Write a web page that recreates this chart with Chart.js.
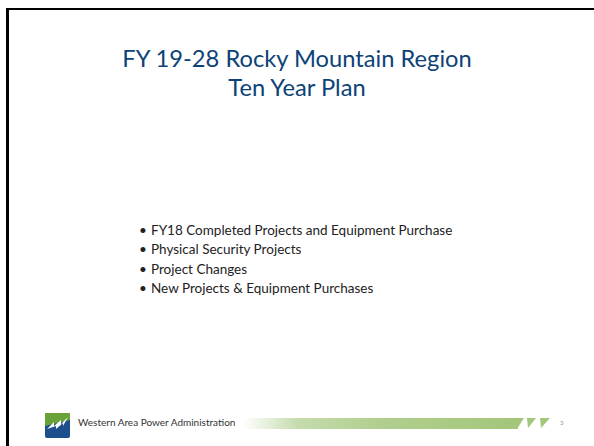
<!DOCTYPE html>
<html lang="en">
<head>
  <meta charset="UTF-8" />
  <title>FY 19-28 Rocky Mountain Region Ten Year Plan</title>
  <script src="https://cdn.jsdelivr.net/npm/chart.js"></script>
  <style>
    html, body { margin: 0; padding: 0; background: #fff; }
    body { width: 594px; height: 446px; position: relative; overflow: hidden; font-family: Lato, "Open Sans", sans-serif; }
    #frame { position: absolute; left: 6px; top: 8px; right: -10px; bottom: -10px; border-left: 3px solid #000; border-top: 2px solid #000; }
    #title { position: absolute; left: 0; width: 594px; top: 44px; text-align: center; color: #0d4277; font-size: 23.7px; line-height: 29px; }
    #bullets { position: absolute; left: 139px; top: 221px; margin: 0; padding: 0; list-style: none; font-size: 13.5px; line-height: 19.3px; color: #222; }
    #bullets li::before { content: "\2022"; display: inline-block; width: 12px; }
    #logo { position: absolute; left: 45px; top: 413px; width: 25px; height: 25px; }
    #org { position: absolute; left: 78px; top: 416px; font-size: 10px; color: #333; }
    #barWrap { position: absolute; left: 240px; top: 416px; width: 318px; height: 15px; }
    #page { position: absolute; left: 560px; top: 419px; font-size: 6px; color: #999; }
  </style>
</head>
<body>
  <div id="frame"></div>
  <div id="title"></div>
  <ul id="bullets"></ul>
  <svg id="logo" viewBox="0 0 25 25">
    <rect x="0" y="0" width="25" height="25" rx="2" fill="#1d4f8c"/>
    <path d="M0 0 H25 V7 L0 13 Z" fill="#6aa23a"/>
    <path d="M2 16 L9 9 L9 13 L16 7 L16 11 L23 4 L18 13 L18 10 L11 16 L11 13 Z" fill="#fff"/>
  </svg>
  <div id="org"></div>
  <div id="barWrap"><canvas id="footerBar" width="318" height="15"></canvas></div>
  <div id="page"></div>

  <script>
    const titleLines = ["FY 19-28 Rocky Mountain Region", "Ten Year Plan"];
    const bulletItems = [
      "FY18 Completed Projects and Equipment Purchase",
      "Physical Security Projects",
      "Project Changes",
      "New Projects & Equipment Purchases"
    ];
    const footerText = "Western Area Power Administration";
    const pageNumber = "3";
    // footer stripe: one bar spanning the band
    const stripeLabels = ["band"];
    const stripeValues = [1];

    document.getElementById("title").innerHTML = titleLines.join("<br>");
    document.getElementById("bullets").innerHTML = bulletItems.map(t => `<li>${t}</li>`).join("");
    document.getElementById("org").textContent = footerText;
    document.getElementById("page").textContent = pageNumber;

    const green = "#a3c67a";
    const ctx = document.getElementById("footerBar").getContext("2d");
    new Chart(ctx, {
      type: "bar",
      data: {
        labels: stripeLabels,
        datasets: [{
          data: stripeValues,
          borderWidth: 0,
          barPercentage: 1,
          categoryPercentage: 1,
          backgroundColor: (c) => {
            const area = c.chart.chartArea;
            if (!area) return green;
            const g = c.chart.ctx.createLinearGradient(area.left, 0, area.right, 0);
            g.addColorStop(0, "rgba(178,207,145,0)");
            g.addColorStop(0.2, "rgba(178,207,145,0.75)");
            g.addColorStop(0.5, "rgba(172,204,136,0.95)");
            g.addColorStop(1, green);
            return g;
          }
        }]
      },
      options: {
        indexAxis: "y",
        responsive: false,
        animation: false,
        maintainAspectRatio: false,
        layout: { padding: { left: 3, right: 40, top: 2, bottom: 2 } },
        plugins: { legend: { display: false }, tooltip: { enabled: false } },
        scales: {
          x: { display: false, min: 0, max: 1 },
          y: { display: false }
        }
      },
      plugins: [{
        id: "chevrons",
        afterDraw(chart) {
          const { ctx, chartArea: a } = chart;
          const r = a.right, t = a.top, b = a.bottom;
          ctx.save();
          ctx.fillStyle = green;
          // slanted end of the band
          ctx.beginPath();
          ctx.moveTo(r - 1, t); ctx.lineTo(r + 6, t); ctx.lineTo(r - 1, b); ctx.closePath();
          ctx.fill();
          // two small "W" strokes
          ctx.beginPath();
          ctx.moveTo(r + 9, t); ctx.lineTo(r + 18, t); ctx.lineTo(r + 10, b - 1); ctx.closePath();
          ctx.fill();
          ctx.beginPath();
          ctx.moveTo(r + 22, t); ctx.lineTo(r + 32, t); ctx.lineTo(r + 23, b - 1); ctx.closePath();
          ctx.fill();
          ctx.restore();
        }
      }]
    });
  </script>
</body>
</html>
